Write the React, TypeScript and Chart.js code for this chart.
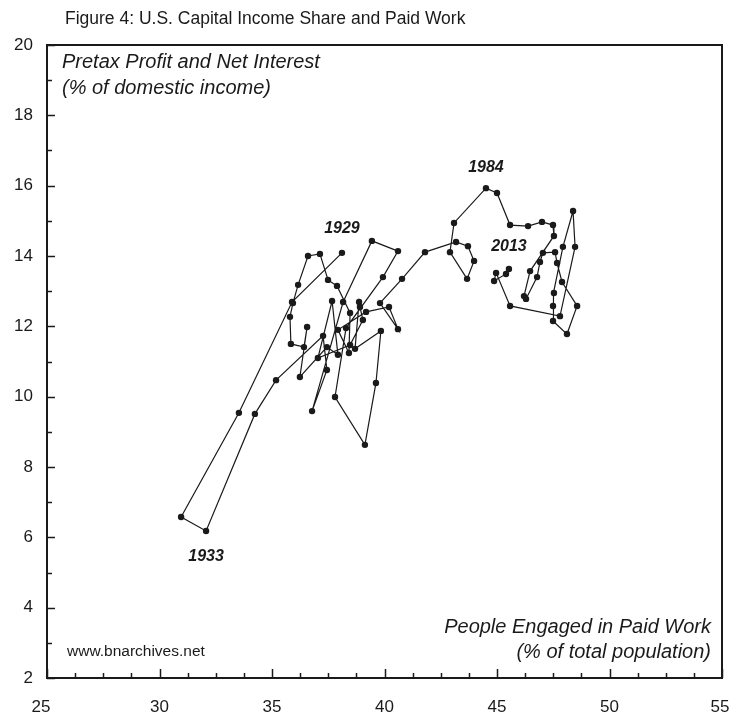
import React, { useEffect, useRef } from "react";
import { Chart, registerables } from "chart.js";

Chart.register(...registerables);

// ---- data ----
const years = [
  1929, 1930, 1931, 1932, 1933, 1934, 1935, 1936, 1937, 1938, 1939, 1940, 1941, 1942, 1944,
  1945, 1946, 1947, 1948, 1949, 1950, 1951, 1952, 1953, 1954, 1955, 1956, 1957, 1958, 1959, 1960,
  1961, 1962, 1963, 1964, 1965, 1966, 1967, 1968, 1969, 1970, 1971, 1972, 1973, 1974, 1975,
  1976, 1977, 1978, 1979, 1980, 1981, 1982, 1983, 1984, 1985, 1986, 1987, 1988, 1989, 1990,
  1991, 1992, 1993, 1994, 1995, 1996, 1997, 1998, 1999, 2000, 2001, 2002, 2003, 2004, 2005,
  2006, 2007, 2008, 2009, 2010, 2011, 2012, 2013,
];
const paidWork = [
  38.11, 35.89, 33.53, 30.96, 32.07, 34.24, 35.18, 37.27, 37.44, 36.78, 38.16, 39.44, 40.6, 39.93, 38.29,
  37.8, 39.13, 39.62, 39.84, 38.69, 38.87, 38.91, 39.04, 38.47, 37.04, 37.67, 37.93, 37.44, 36.24, 36.56, 36.42,
  35.84, 35.8, 35.93, 36.16, 36.6, 37.13, 37.49, 37.89, 38.47, 38.42, 37.93, 39.18, 40.2, 40.6, 39.8,
  40.78, 41.8, 43.18, 43.71, 43.98, 43.67, 42.91, 43.09, 44.51, 45.0, 45.58, 46.38, 47.0, 47.49, 47.53,
  46.47, 46.2, 46.29, 46.78, 46.91, 47.04, 47.58, 47.67, 47.89, 48.56, 48.11, 47.49, 47.49, 47.53, 47.93,
  48.38, 48.47, 47.8, 45.58, 44.96, 44.87, 45.4, 45.53,
];
const capitalShare = [
  14.09, 12.69, 9.54, 6.58, 6.18, 9.51, 10.47, 11.73, 10.76, 9.59, 12.69, 14.43, 14.14, 13.4, 11.95,
  9.99, 8.63, 10.39, 11.87, 11.36, 12.69, 12.55, 12.18, 11.47, 11.1, 12.72, 11.19, 11.41, 10.56, 11.98, 11.41,
  11.5, 12.27, 12.66, 13.18, 14.0, 14.06, 13.32, 13.15, 12.38, 11.24, 11.9, 12.41, 12.55, 11.92, 12.66,
  13.35, 14.11, 14.4, 14.28, 13.86, 13.35, 14.11, 14.94, 15.93, 15.79, 14.88, 14.85, 14.97, 14.88, 14.57,
  13.57, 12.86, 12.78, 13.4, 13.83, 14.09, 14.11, 13.8, 13.26, 12.58, 11.78, 12.15, 12.58, 12.95, 14.26,
  15.28, 14.26, 12.29, 12.58, 13.52, 13.29, 13.49, 13.63,
];
const labelledYears = [1929, 1933, 1984, 2013];
const labelOffsets = [-24, 26, -21, -22];

const xMin = 25;
const xMax = 55;
const xMajorStep = 5;
const xMinorStep = 1.25;
const xTickLabels = ["25", "30", "35", "40", "45", "50", "55"];
const yMin = 2;
const yMax = 20;
const yMajorStep = 2;
const yMinorStep = 1;

const titleText = "Figure 4: U.S. Capital Income Share and Paid Work";
const yTitleLines = ["Pretax Profit and Net Interest", "(% of domestic income)"];
const xTitleLines = ["People Engaged in Paid Work", "(% of total population)"];
const sourceText = "www.bnarchives.net";

const FONT = '"Liberation Sans", Arial, Helvetica, sans-serif';
const INK = "#1a1a1a";

const decorPlugin = {
  id: "decor",
  afterDatasetsDraw(chart: any) {
    const { ctx, chartArea, scales } = chart;
    const { left, right, top, bottom } = chartArea;
    const xs = scales.x;
    const ys = scales.y;
    ctx.save();
    // frame
    ctx.strokeStyle = INK;
    ctx.lineWidth = 2;
    ctx.strokeRect(left, top, right - left, bottom - top);
    // ticks (inside)
    ctx.lineWidth = 1.5;
    const nx = Math.round((xMax - xMin) / xMinorStep);
    for (let i = 0; i <= nx; i++) {
      const v = xMin + i * xMinorStep;
      const major = Math.abs(v / xMajorStep - Math.round(v / xMajorStep)) < 1e-6;
      const px = Math.round(xs.getPixelForValue(v)) + 0.5;
      ctx.beginPath();
      ctx.moveTo(px, bottom);
      ctx.lineTo(px, bottom - (major ? 9 : 5));
      ctx.stroke();
    }
    const ny = Math.round((yMax - yMin) / yMinorStep);
    for (let i = 0; i <= ny; i++) {
      const v = yMin + i * yMinorStep;
      const major = Math.abs(v / yMajorStep - Math.round(v / yMajorStep)) < 1e-6;
      const py = Math.round(ys.getPixelForValue(v)) + 0.5;
      ctx.beginPath();
      ctx.moveTo(left, py);
      ctx.lineTo(left + (major ? 8 : 5), py);
      ctx.stroke();
    }
    // x tick labels
    ctx.fillStyle = INK;
    ctx.textBaseline = "middle";
    ctx.textAlign = "center";
    ctx.font = `17px ${FONT}`;
    xTickLabels.forEach((t) => {
      const v = Number(t);
      let px = xs.getPixelForValue(v);
      if (v === xMin) px -= 6;
      if (v === xMax) px -= 2;
      ctx.fillText(t, px, bottom + 29);
    });
    // texts
    ctx.textAlign = "left";
    ctx.font = `17.5px ${FONT}`;
    ctx.fillText(titleText, 65, 19);
    ctx.font = `italic 20px ${FONT}`;
    ctx.fillText(yTitleLines[0], left + 15, top + 17);
    ctx.fillText(yTitleLines[1], left + 15, top + 43);
    ctx.textAlign = "right";
    ctx.fillText(xTitleLines[0], right - 11, bottom - 51);
    ctx.fillText(xTitleLines[1], right - 11, bottom - 26);
    ctx.textAlign = "left";
    ctx.font = `15.5px ${FONT}`;
    ctx.fillText(sourceText, left + 20, bottom - 26);
    // year labels
    ctx.font = `italic bold 16px ${FONT}`;
    ctx.textAlign = "center";
    labelledYears.forEach((yr, k) => {
      const i = years.indexOf(yr);
      if (i < 0) return;
      const px = xs.getPixelForValue(paidWork[i]);
      const py = ys.getPixelForValue(capitalShare[i]);
      ctx.fillText(String(yr), px, py + labelOffsets[k]);
    });
    ctx.restore();
  },
};

export default function App() {
  const ref = useRef<HTMLCanvasElement | null>(null);
  useEffect(() => {
    if (!ref.current) return;
    const points = paidWork.map((x, i) => ({ x, y: capitalShare[i] }));
    const chart = new Chart(ref.current, {
      type: "scatter",
      data: {
        datasets: [
          {
            data: points,
            showLine: true,
            borderColor: INK,
            borderWidth: 1.2,
            pointRadius: 3.2,
            pointBorderWidth: 0,
            pointBackgroundColor: INK,
            tension: 0,
          },
        ],
      },
      options: {
        responsive: false,
        animation: false,
        devicePixelRatio: 1,
        layout: { padding: { top: 45, right: 14, left: 0, bottom: 0 } },
        plugins: { legend: { display: false }, tooltip: { enabled: false }, title: { display: false } },
        scales: {
          x: {
            type: "linear",
            min: xMin,
            max: xMax,
            border: { display: false },
            grid: { display: false, drawTicks: false },
            ticks: { display: false, stepSize: xMajorStep },
            afterFit: (s: any) => {
              s.height = 39;
            },
          },
          y: {
            type: "linear",
            min: yMin,
            max: yMax,
            border: { display: false },
            grid: { display: false, drawTicks: false },
            ticks: {
              stepSize: yMajorStep,
              padding: 14,
              color: INK,
              font: { family: FONT, size: 17 },
            },
            afterFit: (s: any) => {
              s.width = 47;
            },
          },
        },
      },
      plugins: [decorPlugin],
    });
    return () => chart.destroy();
  }, []);
  return (
    <div style={{ position: "absolute", left: 0, top: 0, width: 736, height: 717, background: "#fff" }}>
      <canvas ref={ref} width={736} height={717} style={{ width: 736, height: 717 }} />
    </div>
  );
}
